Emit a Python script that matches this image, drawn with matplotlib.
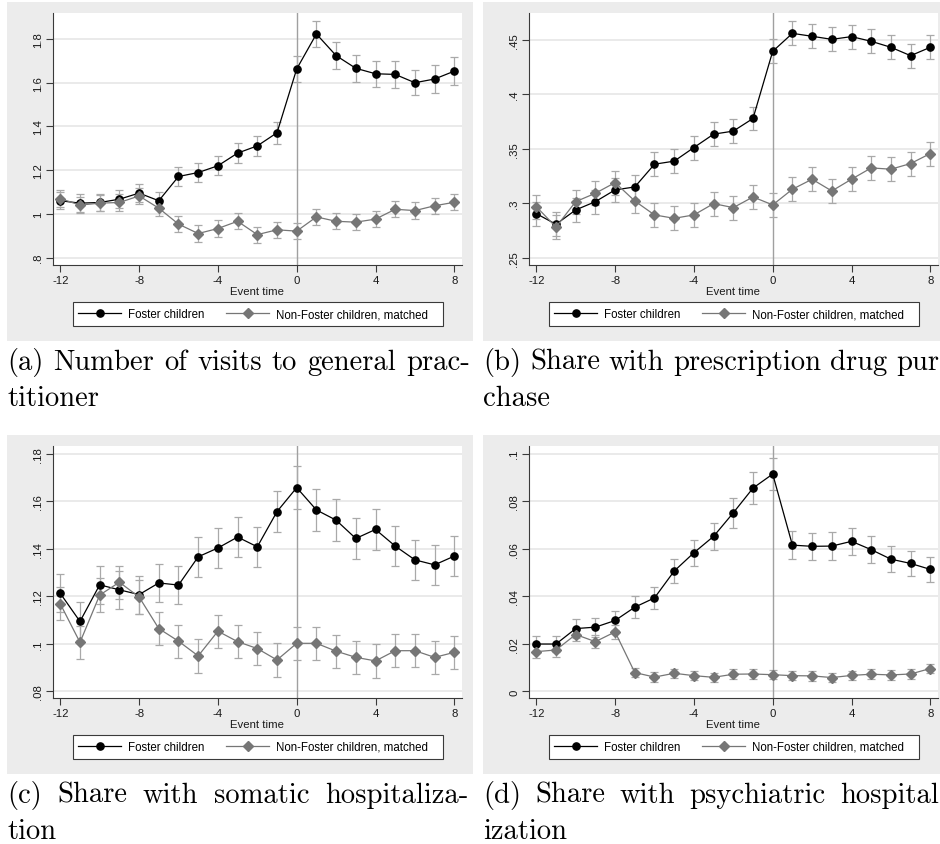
import matplotlib
matplotlib.use("Agg")
import matplotlib.pyplot as plt
from matplotlib.lines import Line2D
from matplotlib.patches import Rectangle

plt.rcParams["font.family"] = ["Liberation Sans", "DejaVu Sans"]
plt.rcParams["axes.unicode_minus"] = False

# ── Data ──────────────────────────────────────────────────
EVENT_TIME = list(range(-12, 9))
X_TICKS = [-12, -8, -4, 0, 4, 8]

# (a) GP visits
GP_FOSTER = [1.060, 1.049, 1.052, 1.067, 1.095, 1.060, 1.171, 1.189, 1.220, 1.278, 1.311,
             1.371, 1.663, 1.823, 1.724, 1.666, 1.641, 1.638, 1.600, 1.617, 1.653]
GP_FOSTER_CI = [0.040, 0.040, 0.040, 0.040, 0.040, 0.040, 0.042, 0.043, 0.044, 0.046, 0.047,
                0.050, 0.058, 0.061, 0.062, 0.062, 0.060, 0.062, 0.058, 0.062, 0.064]
GP_MATCHED = [1.070, 1.040, 1.049, 1.052, 1.082, 1.026, 0.953, 0.910, 0.933, 0.966, 0.905,
              0.927, 0.921, 0.986, 0.966, 0.962, 0.976, 1.021, 1.015, 1.037, 1.053]
GP_MATCHED_CI = [0.037] * 21
GP_YTICKS = [0.8, 1.0, 1.2, 1.4, 1.6, 1.8]
GP_YLABELS = [".8", "1", "1.2", "1.4", "1.6", "1.8"]

# (b) prescription drug purchase
RX_FOSTER = [0.2905, 0.2807, 0.2939, 0.3015, 0.3123, 0.3150, 0.3359, 0.3387, 0.3512, 0.3635,
             0.3663, 0.3779, 0.4396, 0.4561, 0.4534, 0.4506, 0.4531, 0.4488, 0.4433, 0.4356,
             0.4433]
RX_FOSTER_CI = [0.011] * 21
RX_MATCHED = [0.2969, 0.2782, 0.3015, 0.3092, 0.3190, 0.3021, 0.2893, 0.2862, 0.2893, 0.2997,
              0.2960, 0.3058, 0.2985, 0.3129, 0.3221, 0.3113, 0.3221, 0.3325, 0.3313, 0.3365,
              0.3457]
RX_MATCHED_CI = [0.011] * 21
RX_YTICKS = [0.25, 0.30, 0.35, 0.40, 0.45]
RX_YLABELS = [".25", ".3", ".35", ".4", ".45"]

# (c) somatic hospitalization
SOM_FOSTER = [0.1212, 0.1094, 0.1248, 0.1227, 0.1207, 0.1256, 0.1247, 0.1366, 0.1403, 0.1449,
              0.1408, 0.1556, 0.1657, 0.1563, 0.1520, 0.1443, 0.1481, 0.1411, 0.1353, 0.1332,
              0.1369]
SOM_FOSTER_CI = [0.0080, 0.0080, 0.0080, 0.0080, 0.0080, 0.0080, 0.0080, 0.0083, 0.0083,
                 0.0085, 0.0085, 0.0087, 0.0089, 0.0087, 0.0087, 0.0085, 0.0085, 0.0085,
                 0.0083, 0.0083, 0.0083]
SOM_MATCHED = [0.1168, 0.1006, 0.1205, 0.1259, 0.1197, 0.1064, 0.1011, 0.0949, 0.1053, 0.1009,
               0.0980, 0.0932, 0.1002, 0.1002, 0.0969, 0.0943, 0.0928, 0.0971, 0.0971, 0.0943,
               0.0964]
SOM_MATCHED_CI = [0.0070] * 21
SOM_YTICKS = [0.08, 0.10, 0.12, 0.14, 0.16, 0.18]
SOM_YLABELS = [".08", ".1", ".12", ".14", ".16", ".18"]

# (d) psychiatric hospitalization
PSY_FOSTER = [0.0199, 0.0199, 0.0264, 0.0270, 0.0298, 0.0354, 0.0393, 0.0506, 0.0583, 0.0652,
              0.0751, 0.0855, 0.0914, 0.0615, 0.0610, 0.0611, 0.0631, 0.0596, 0.0556, 0.0538,
              0.0513]
PSY_FOSTER_CI = [0.0035, 0.0035, 0.0040, 0.0040, 0.0042, 0.0045, 0.0047, 0.0052, 0.0055,
                 0.0058, 0.0063, 0.0066, 0.0069, 0.0058, 0.0058, 0.0058, 0.0058, 0.0057,
                 0.0054, 0.0053, 0.0053]
PSY_MATCHED = [0.0167, 0.0174, 0.0239, 0.0209, 0.0250, 0.0079, 0.0060, 0.0076, 0.0066, 0.0059,
               0.0072, 0.0073, 0.0070, 0.0066, 0.0065, 0.0058, 0.0067, 0.0072, 0.0069, 0.0073,
               0.0096]
PSY_MATCHED_CI = [0.0028] * 5 + [0.0020] * 16
PSY_YTICKS = [0.0, 0.02, 0.04, 0.06, 0.08, 0.10]
PSY_YLABELS = ["0", ".02", ".04", ".06", ".08", ".1"]

LEGEND_LABELS = ["Foster children", "Non-Foster children, matched   "]
X_LABEL = "Event time"

# the right-hand captions run off the edge of the page in the original
CAPTIONS = [
    (["(a)", "Number", "of", "visits", "to", "general", "prac-"], ["titioner"], 470),
    (["(b)", "Share", "with", "prescription", "drug", "pur"], ["chase"], 939),
    (["(c)", "Share", "with", "somatic", "hospitaliza-"], ["tion"], 468),
    (["(d)", "Share", "with", "psychiatric", "hospital"], ["ization"], 939),
]

# ── Layout (pixels) ───────────────────────────────────────
W, H = 940, 845
COL_DX, ROW_DY = 476, 433
PANEL_BG = "#ececec"
CI_COLOR = "#a9a9a9"
MATCHED_COLOR = "#767676"


def fig_rect(x0, y0, x1, y1):
    return [x0 / W, 1 - y1 / H, (x1 - x0) / W, (y1 - y0) / H]


def draw_panel(fig, col, row, foster, foster_ci, matched, matched_ci, yticks, ylabels, ylim):
    dx, dy = col * COL_DX, row * ROW_DY

    # gray graph region
    fig.patches.append(Rectangle(((7 + dx) / W, 1 - (342 + dy) / H), 466 / W, 339 / H,
                                 transform=fig.transFigure, facecolor=PANEL_BG,
                                 edgecolor="none", zorder=0))

    ax = fig.add_axes(fig_rect(53 + dx, 14 + dy, 462 + dx, 266 + dy))
    ax.set_facecolor("white")
    ax.set_zorder(1)

    ax.errorbar(EVENT_TIME, foster, yerr=foster_ci, fmt="none", ecolor=CI_COLOR,
                elinewidth=0.9, capsize=3.2, capthick=0.9, zorder=2)
    ax.errorbar(EVENT_TIME, matched, yerr=matched_ci, fmt="none", ecolor=CI_COLOR,
                elinewidth=0.9, capsize=3.2, capthick=0.9, zorder=2)
    ax.plot(EVENT_TIME, foster, "-o", color="black", ms=5.2, lw=0.9, zorder=4)
    ax.plot(EVENT_TIME, matched, "-D", color=MATCHED_COLOR, ms=4.6, lw=0.9, zorder=5)
    ax.axvline(0, color="#a0a0a0", lw=1.0, zorder=1)

    ax.set_xlim(-12.37, 8.39)
    ax.set_ylim(*ylim)
    ax.set_xticks(X_TICKS)
    ax.set_xticklabels([str(t) for t in X_TICKS])
    ax.set_yticks(yticks)
    ax.set_yticklabels(ylabels, rotation=90, va="center")
    ax.yaxis.grid(True, color="#e4e4e4", lw=1.1)
    ax.set_axisbelow(True)
    for side in ("top", "right"):
        ax.spines[side].set_visible(False)
    for side in ("left", "bottom"):
        ax.spines[side].set_color("#3a3a3a")
        ax.spines[side].set_linewidth(0.8)
    ax.tick_params(length=5, width=0.8, color="#3a3a3a", labelsize=8.2, pad=2,
                   labelcolor="#1a1a1a")
    ax.set_xlabel(X_LABEL, fontsize=8.2, labelpad=1, color="#1a1a1a")

    handles = [
        Line2D([], [], color="black", marker="o", ms=5.2, lw=0.9),
        Line2D([], [], color=MATCHED_COLOR, marker="D", ms=4.6, lw=0.9),
    ]
    leg = ax.legend(handles, LEGEND_LABELS, loc="center", ncol=2,
                    bbox_to_anchor=((258 + dx) / W, 1 - (315 + dy) / H),
                    bbox_transform=fig.transFigure, fontsize=8.3, frameon=True,
                    fancybox=False, edgecolor="#3a3a3a", framealpha=1,
                    handlelength=3.7, handletextpad=0.6, columnspacing=1.9,
                    borderpad=0.5, borderaxespad=0)
    leg.get_frame().set_linewidth(0.8)
    return ax


def justified_line(fig, renderer, words, x0, x1, y_base, size, justify=True):
    texts = [fig.text(0, 0, w, fontsize=size, family="cmr10", va="baseline", ha="left")
             for w in words]
    widths = [t.get_window_extent(renderer).width for t in texts]
    gap = (x1 - x0 - sum(widths)) / (len(words) - 1) if justify and len(words) > 1 else 0
    x = x0
    for t, w in zip(texts, widths):
        t.set_position((x / W, 1 - y_base / H))
        x += w + gap


fig = plt.figure(figsize=(W / 100, H / 100), dpi=100)

panels = [
    (GP_FOSTER, GP_FOSTER_CI, GP_MATCHED, GP_MATCHED_CI, GP_YTICKS, GP_YLABELS, (0.766, 1.919)),
    (RX_FOSTER, RX_FOSTER_CI, RX_MATCHED, RX_MATCHED_CI, RX_YTICKS, RX_YLABELS, (0.2433, 0.4748)),
    (SOM_FOSTER, SOM_FOSTER_CI, SOM_MATCHED, SOM_MATCHED_CI, SOM_YTICKS, SOM_YLABELS, (0.0772, 0.1832)),
    (PSY_FOSTER, PSY_FOSTER_CI, PSY_MATCHED, PSY_MATCHED_CI, PSY_YTICKS, PSY_YLABELS, (-0.0028, 0.1032)),
]
for i, p in enumerate(panels):
    draw_panel(fig, i % 2, i // 2, *p)

# captions, justified like the LaTeX original
renderer = fig.canvas.get_renderer()
for i, (line1, line2, right) in enumerate(CAPTIONS):
    col, row = i % 2, i // 2
    left = 7 + col * COL_DX
    base = 370 + row * ROW_DY
    justified_line(fig, renderer, line1, left, right, base, 20.6)
    justified_line(fig, renderer, line2, left, right, base + 36.5, 20.6, justify=False)

fig.savefig("out.png", dpi=100, facecolor="white")
